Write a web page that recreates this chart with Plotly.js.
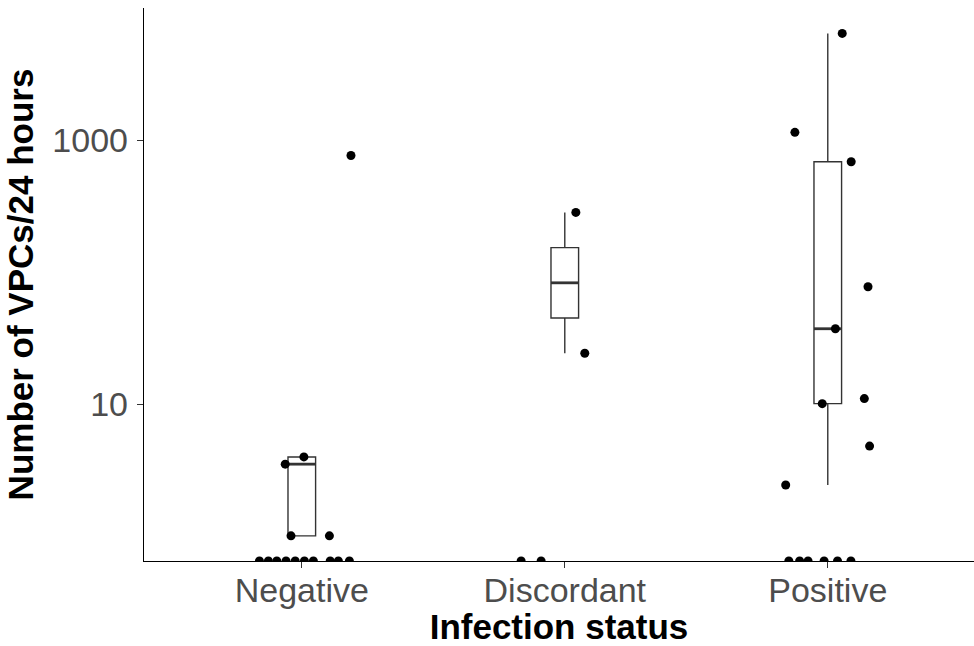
<!DOCTYPE html>
<html>
<head>
<meta charset="utf-8">
<script src="https://cdn.plot.ly/plotly-3.0.1.min.js"></script>
<style>html,body{margin:0;padding:0;background:#fff;}#chart{width:974px;height:646px;}</style>
</head>
<body>
<div id="chart"></div>
<script>
// ---- data (0 = zero count, drawn at the panel floor) ----
const categories = ["Negative", "Discordant", "Positive"];

const negativeValues = [3.5, 3.97, 1, 1, 770, 0, 0, 0, 0, 0, 0, 0, 0, 0, 0];
const negativeJitter = [-0.063, 0.008, -0.041, 0.105, 0.187, -0.161, -0.127, -0.095, -0.060, -0.025, 0.010, 0.044, 0.108, 0.139, 0.181];

const discordantValues = [285, 24.3, 0, 0];
const discordantJitter = [0.042, 0.076, -0.166, -0.090];

const positiveValues = [6500, 1154, 691, 77.7, 37.3, 10.07, 11.0, 4.8, 2.43, 0, 0, 0, 0, 0, 0];
const positiveJitter = [0.055, -0.125, 0.089, 0.153, 0.029, -0.021, 0.139, 0.159, -0.160, -0.148, -0.107, -0.075, -0.014, 0.037, 0.088];

const yTickValues = [10, 1000];
const yTickLabels = ["10", "1000"];

// ---- layout constants ----
const yRangeLog = [-0.191, 4.006];
const floorValue = Math.pow(10, yRangeLog[0]);
const boxWidth = 0.105;

const groups = [
  {values: negativeValues, jitter: negativeJitter},
  {values: discordantValues, jitter: discordantJitter},
  {values: positiveValues, jitter: positiveJitter}
];

// quantile type 7 (on log10 scale, zeros excluded like a log scale does)
function quantile(sorted, p) {
  const h = (sorted.length - 1) * p;
  const lo = Math.floor(h), hi = Math.ceil(h);
  return sorted[lo] + (h - lo) * (sorted[hi] - sorted[lo]);
}
function boxStats(values) {
  const logs = values.filter(v => v > 0).map(v => Math.log10(v)).sort((a, b) => a - b);
  const q1 = quantile(logs, 0.25), med = quantile(logs, 0.5), q3 = quantile(logs, 0.75);
  const iqr = q3 - q1;
  const lowF = Math.min(...logs.filter(v => v >= q1 - 1.5 * iqr));
  const upF = Math.max(...logs.filter(v => v <= q3 + 1.5 * iqr));
  const p = v => Math.pow(10, v);
  return {q1: p(q1), median: p(med), q3: p(q3), lowerfence: p(lowF), upperfence: p(upF)};
}

const traces = [];
groups.forEach((g, i) => {
  const s = boxStats(g.values);
  traces.push({
    type: 'box', x: [i], q1: [s.q1], median: [s.median], q3: [s.q3],
    lowerfence: [s.lowerfence], upperfence: [s.upperfence],
    width: boxWidth, whiskerwidth: 0, boxpoints: false,
    fillcolor: 'rgba(255,255,255,0)',
    line: {color: '#333333', width: 1.4},
    hoverinfo: 'skip', showlegend: false
  });
  // thicker median bar
  traces.push({
    type: 'scatter', mode: 'lines',
    x: [i - boxWidth / 2, i + boxWidth / 2], y: [s.median, s.median],
    line: {color: '#333333', width: 2.8},
    hoverinfo: 'skip', showlegend: false
  });
});
groups.forEach((g, i) => {
  traces.push({
    type: 'scatter', mode: 'markers',
    x: g.jitter.map(j => i + j),
    y: g.values.map(v => v > 0 ? v : floorValue),
    marker: {color: '#000000', size: 9},
    hoverinfo: 'skip', showlegend: false
  });
});

const layout = {
  width: 974, height: 646,
  margin: {l: 144, r: 0, t: 8, b: 85},
  paper_bgcolor: '#ffffff', plot_bgcolor: '#ffffff',
  font: {family: 'Liberation Sans, Arial, sans-serif'},
  showlegend: false,
  xaxis: {
    range: [-0.6, 2.556], tickmode: 'array', tickvals: [0, 1, 2], ticktext: categories,
    showgrid: false, zeroline: false, showline: true, linecolor: '#000000', linewidth: 1.2,
    ticks: 'outside', ticklen: 6, tickwidth: 1.1, tickcolor: '#333333',
    ticklabelstandoff: -7,
    tickfont: {size: 34, color: '#4D4D4D'},
    title: {text: '<b>Infection status</b>', font: {size: 35, color: '#000000'}, standoff: 10}
  },
  yaxis: {
    type: 'log', range: yRangeLog, tickmode: 'array', tickvals: yTickValues, ticktext: yTickLabels,
    showgrid: false, zeroline: false, showline: true, linecolor: '#000000', linewidth: 1.2,
    ticks: 'outside', ticklen: 6, tickwidth: 1.1, tickcolor: '#333333',
    ticklabelstandoff: 2,
    tickfont: {size: 34, color: '#4D4D4D'},
    title: {text: '<b>Number of VPCs/24 hours</b>', font: {size: 35, color: '#000000'}, standoff: 8}
  }
};

Plotly.newPlot('chart', traces, layout, {staticPlot: true, displayModeBar: false});
</script>
</body>
</html>
